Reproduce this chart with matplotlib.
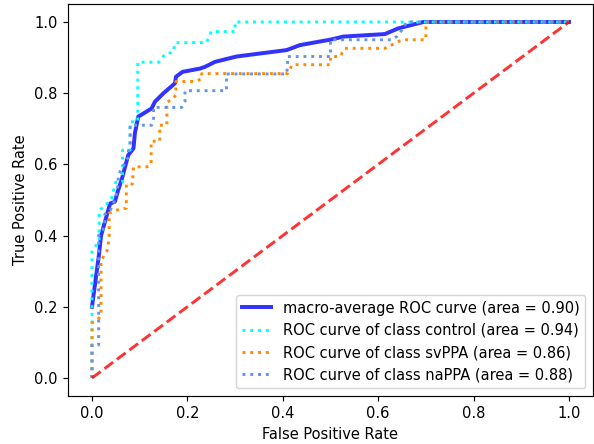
import matplotlib
matplotlib.use("Agg")
import matplotlib.pyplot as plt

# Macro-average ROC curve
fpr_macro = [0, 0.015, 0.019, 0.038, 0.048, 0.055, 0.062, 0.076, 0.087, 0.090, 0.097,
             0.125, 0.132, 0.150, 0.170, 0.174, 0.176, 0.190, 0.226, 0.237, 0.258,
             0.303, 0.408, 0.436, 0.502, 0.527, 0.614, 0.642, 0.695, 1.0]
tpr_macro = [0.20, 0.35, 0.40, 0.49, 0.495, 0.528, 0.556, 0.626, 0.645, 0.688, 0.734,
             0.757, 0.776, 0.800, 0.823, 0.828, 0.846, 0.860, 0.869, 0.874, 0.888,
             0.903, 0.921, 0.935, 0.951, 0.959, 0.966, 0.982, 1.0, 1.0]

# Class "control"
fpr_control = [0, 0, 0.015, 0.015, 0.040, 0.050, 0.064, 0.064, 0.080, 0.080, 0.096,
               0.096, 0.140, 0.153, 0.170, 0.175, 0.240, 0.250, 0.300, 0.300, 1.0]
tpr_control = [0, 0.355, 0.385, 0.470, 0.500, 0.550, 0.550, 0.640, 0.640, 0.720, 0.720,
               0.887, 0.887, 0.910, 0.915, 0.942, 0.942, 0.973, 0.973, 1.0, 1.0]

# Class "svPPA"
fpr_svppa = [0, 0, 0.012, 0.019, 0.019, 0.031, 0.036, 0.036, 0.057, 0.072, 0.072, 0.085,
             0.087, 0.115, 0.124, 0.124, 0.142, 0.142, 0.157, 0.157, 0.167, 0.176,
             0.176, 0.216, 0.230, 0.230, 0.410, 0.420, 0.500, 0.500, 0.520, 0.530,
             0.614, 0.650, 0.700, 0.700, 1.0]
tpr_svppa = [0, 0.155, 0.163, 0.177, 0.330, 0.355, 0.390, 0.463, 0.474, 0.477, 0.545, 0.545,
             0.593, 0.593, 0.600, 0.665, 0.665, 0.710, 0.710, 0.776, 0.780, 0.795,
             0.833, 0.833, 0.840, 0.855, 0.855, 0.880, 0.880, 0.903, 0.903, 0.926,
             0.926, 0.950, 0.950, 1.0, 1.0]

# Class "naPPA"
fpr_nappa = [0, 0, 0.014, 0.014, 0.023, 0.027, 0.027, 0.038, 0.045, 0.052, 0.055, 0.055,
             0.076, 0.076, 0.080, 0.080, 0.125, 0.129, 0.129, 0.188, 0.195, 0.195,
             0.282, 0.282, 0.408, 0.410, 0.410, 0.500, 0.500, 0.628, 0.640, 0.650,
             0.660, 1.0]
tpr_nappa = [0, 0.093, 0.093, 0.400, 0.415, 0.440, 0.460, 0.470, 0.490, 0.520, 0.547, 0.570,
             0.620, 0.635, 0.660, 0.710, 0.710, 0.725, 0.760, 0.760, 0.776, 0.807,
             0.807, 0.854, 0.854, 0.875, 0.903, 0.903, 0.950, 0.950, 0.960, 0.978,
             1.0, 1.0]

labels = ["macro-average ROC curve (area = 0.90)",
          "ROC curve of class control (area = 0.94)",
          "ROC curve of class svPPA (area = 0.86)",
          "ROC curve of class naPPA (area = 0.88)"]

DPI = 105.6
fig = plt.figure(figsize=(594 / DPI, 444 / DPI), dpi=DPI)
ax = fig.add_axes([0.1147, 0.1086, 0.8833, 0.882])

ax.plot(fpr_macro, tpr_macro, color="blue", alpha=0.8, lw=2.7, linestyle="-", label=labels[0])
ax.plot(fpr_control, tpr_control, color="aqua", lw=2, linestyle=":", label=labels[1])
ax.plot(fpr_svppa, tpr_svppa, color="darkorange", lw=2, linestyle=":", label=labels[2])
ax.plot(fpr_nappa, tpr_nappa, color="cornflowerblue", lw=2, linestyle=":", label=labels[3])
ax.plot([0, 1], [0, 1], color="red", alpha=0.8, lw=2, linestyle="--")

ax.set_xlabel("False Positive Rate")
ax.set_ylabel("True Positive Rate")
ax.legend(loc="lower right")

fig.savefig("out.png", dpi=DPI)
